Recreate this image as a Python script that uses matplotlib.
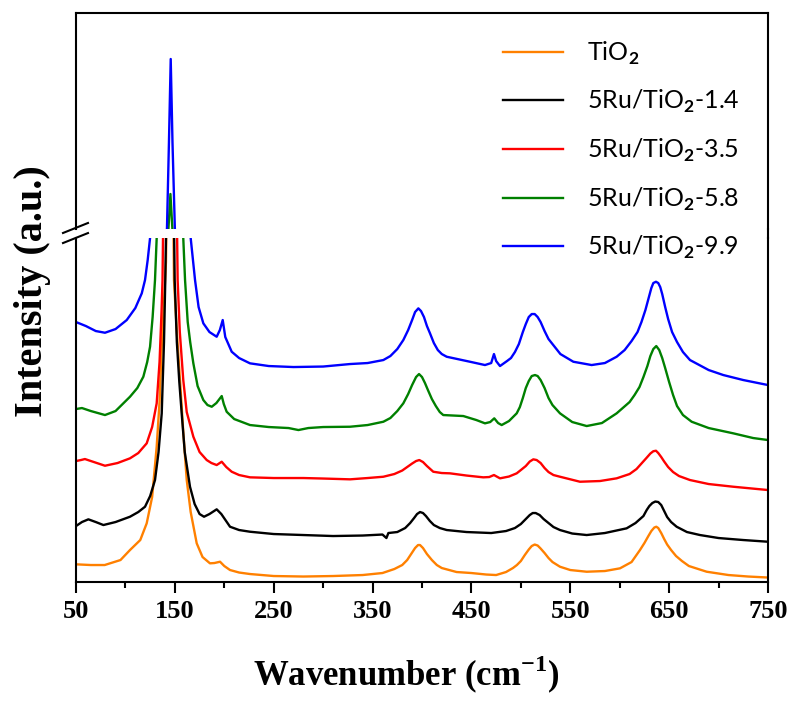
import numpy as np
import matplotlib.pyplot as plt
from matplotlib.lines import Line2D

plt.rcParams['font.family'] = 'Liberation Serif'
plt.rcParams['font.weight'] = 'bold'
plt.rcParams['mathtext.fontset'] = 'custom'
plt.rcParams['mathtext.rm'] = 'Lato'
plt.rcParams['mathtext.bf'] = 'Liberation Serif:bold'

'''
data read off the spectra (stacked, arbitrary units)
lower panel shows 0-344, upper panel 600-2600
'''
labels = ['TiO$_2$', '5Ru/TiO$_2$-1.4', '5Ru/TiO$_2$-3.5', '5Ru/TiO$_2$-5.8', '5Ru/TiO$_2$-9.9']
colors = ['#ff8000', 'black', '#ff0000', '#008000', '#0000ff']

tio2_wn = [50, 65, 79, 95, 104.6, 115, 121.5, 127, 131.6, 134.5, 136.7, 139, 141, 141.3, 143, 145, 147, 148.7, 149.1,
           152, 155.2, 158.5, 162, 166, 172.1, 178, 185.5, 190, 195.7, 200, 205.8, 215, 226, 250, 280, 310, 340, 360,
           372, 380, 385, 389, 393, 396, 398, 401, 405, 410, 415, 420, 435, 450, 465, 475, 485, 492, 496, 500, 504,
           508, 511, 514, 517, 520, 524, 528, 532, 539.6, 550, 566.6, 585, 600.3, 612, 620.5, 625, 629, 632, 635,
           637, 639, 642, 645, 648, 652, 657, 663, 670, 688, 710, 730, 750]
tio2_int = [17.7, 17, 17, 22, 32, 42, 58.7, 85, 135.3, 180, 235.3, 280, 320, 344, 420, 480, 420, 344, 302,
            250, 202, 150, 102, 70, 38.7, 25, 18.7, 19, 20.3, 16, 12, 9.5, 8, 6, 5.5, 6, 7, 9,
            13, 17, 22, 28, 34, 37, 37, 34, 28, 22, 17, 14, 10, 9, 7.5, 7, 10, 14, 17, 21, 27,
            32.5, 36, 37.5, 36.5, 33.5, 29, 24, 20, 15.3, 12, 10.3, 11, 13.7, 20, 32, 39, 46, 51, 54.5,
            55.3, 54, 49, 43, 37.5, 32, 26, 21, 16, 10.3, 7, 5.5, 4.5]

ru14_wn = [50, 56, 62.5, 70, 77.7, 90, 104.6, 113, 119.8, 125, 129.9, 133.5, 136.7, 139, 140.3, 141, 143, 145.5, 148,
           149.3, 149.8, 152, 154.5, 156.9, 160, 165.3, 170, 175, 179.5, 185, 192.3, 197, 205.8, 215, 226, 250, 280,
           310, 340, 360, 364, 366, 375, 383, 388, 392, 395, 398, 401, 404, 408, 412, 418, 425, 445, 470, 485, 494,
           500, 505, 509, 512, 515, 519, 523, 528, 533, 539.6, 552, 566.6, 585, 607, 616, 624, 627.3, 630, 633,
           636, 639, 642, 645, 648, 652, 657.6, 668, 681.2, 700, 725, 750]
ru14_int = [56, 60, 62.7, 60, 57, 60, 65.3, 70, 75.3, 86, 102, 130, 168.7, 240, 302, 344, 420, 470, 420,
            344, 302, 240, 200, 168.7, 130, 95.3, 78, 68, 65.3, 68, 72.7, 68, 55.3, 52, 50.3, 48, 47,
            46, 46.5, 47.5, 44, 49, 50, 54, 59, 64, 68, 70, 69, 66, 61, 57, 54, 52, 50, 49, 51, 54,
            58, 63, 67, 69, 69, 67, 63, 59, 55, 52, 48.5, 47, 49, 53.7, 59, 66, 72, 76, 79,
            80.5, 80, 77, 71, 65, 60, 55.3, 50, 47, 44, 42, 40.3]

ru35_wn = [50, 55, 59, 79.3, 92, 104.6, 113, 121.5, 127, 131.6, 134.5, 136.5, 137.5, 138, 142, 145.5, 149, 152.3,
           152.8, 155, 158.5, 162, 168.7, 175, 182.2, 187, 192.3, 197.4, 202, 207.5, 215, 226, 250, 280, 300,
           327.2, 345, 360.9, 372, 380, 385, 390, 394, 397.3, 401, 405, 411.4, 420, 428.3, 445, 462, 468, 472.8,
           478.9, 488, 495.8, 500, 505, 509, 512.6, 516, 520, 524, 528, 533, 539.6, 559.8, 580, 596.9, 610, 617,
           622, 627, 631, 634, 636.7, 639, 642, 645, 649, 654, 660, 671.1, 690, 714.9, 750]
ru35_int = [121, 122, 123, 116.3, 119, 123.7, 129, 138.7, 155, 178.7, 220, 270, 302, 344, 440, 500, 440, 344,
            302, 250, 202, 170, 145.3, 130, 122, 119, 117, 120.3, 115, 110.3, 107, 104.7, 104, 104, 103.5,
            102.7, 104, 105.3, 108, 111.5, 115, 118.5, 121, 122, 120, 116, 110.3, 109, 108.7, 106.5, 104.7, 105, 107,
            103.7, 105.5, 108.7, 112, 116, 120.5, 122.7, 122, 119, 114, 110, 107, 105.3, 100.3, 101, 103.7, 108, 113,
            118.5, 124, 128.5, 130.8, 131.3, 129, 125, 120.5, 115, 110, 106, 102, 98, 95.3, 92]

ru58_wn = [50, 56, 65, 79.3, 90, 104.6, 112, 118.1, 122, 124.9, 127.5, 129.9, 131.6, 138, 143.5, 145.5, 147.5, 153,
           158.5, 160.3, 163, 165.5, 168.7, 173, 178.8, 183, 187.3, 192, 197.4, 199.5, 202.4, 210, 226, 245, 265,
           275, 285, 300, 327.2, 345, 360.9, 368, 375, 381.1, 386, 390, 394, 397, 400, 403, 406, 410, 414, 418,
           421.5, 441.8, 455, 463.7, 469, 473.1, 477, 480.6, 488, 495.8, 499, 502, 505, 508, 511, 514.3, 517, 520,
           524, 528, 532, 539.6, 552, 566.6, 582, 596.9, 610, 615, 620, 624, 628, 631, 634, 637, 640, 643, 646,
           650, 654, 658, 664, 672.8, 690, 714.9, 735, 750]
ru58_int = [173, 174, 171, 167, 171, 185.3, 194, 205.3, 220, 235.3, 265, 302, 344, 450, 600, 924, 600, 450,
            344, 302, 260, 240, 218.7, 196, 182, 177, 175.3, 179, 186, 178, 170.3, 163, 157, 155, 154,
            152, 154, 155, 155.3, 157, 160.3, 164, 171, 178.7, 188, 197, 205, 208, 205, 199, 192, 183, 176, 170,
            167, 166, 162, 158.7, 160, 163.7, 159, 157, 161, 168.7, 175, 184, 194, 201, 206, 207, 206, 202,
            194, 184, 177, 168.7, 160, 156, 159, 168.7, 180, 187, 195, 205, 216, 226, 233, 236, 232, 224, 214,
            200, 187, 176, 167, 160.3, 154, 148.7, 144, 142]

ru99_wn = [50, 60, 70, 79.3, 90, 101.3, 110, 116.5, 119.8, 122.5, 124.9, 133, 142, 144, 145.8, 147.6, 150, 158,
           166, 170.4, 174, 178.8, 185, 192.3, 195.5, 198.4, 201, 207.5, 215, 226, 245, 270, 300, 327.2, 345,
           360.9, 368, 375, 381.1, 386, 390, 393, 396.3, 399, 402, 405, 408.1, 412, 416, 420, 425, 448.5, 463.7,
           470, 472.8, 475, 478.9, 486, 490, 494, 498, 502, 505, 508, 511, 514, 517, 520, 524, 528, 532.8, 540,
           553.1, 571.6, 585, 596.9, 605, 612, 618, 622, 626, 629, 632, 634, 636.7, 639, 641, 643, 646, 649, 653,
           658, 664, 671.1, 690, 704.8, 725, 750]
ru99_int = [260, 256, 251, 249.3, 253, 262, 274, 288.7, 302, 322, 344, 450, 600, 1400, 2174, 1400, 600, 450,
            344, 302, 275, 258.7, 250, 245.3, 252, 262, 245, 230.3, 224, 218.7, 216, 215, 215.5, 218, 219,
            222, 226, 233, 242, 252, 262, 270, 273.7, 271, 265, 256, 248.7, 239, 232, 228, 225.3, 220.3, 217,
            219, 228, 221, 216, 221, 224, 230, 238, 250, 258, 265, 268, 268, 265, 260, 251, 243, 237, 228,
            220.3, 217, 219, 225.3, 232, 241, 250, 260, 272, 283, 294, 299, 300.3, 299, 295, 288, 275, 263, 250,
            240, 230, 222, 212, 207, 202, 197]

wn_list = [tio2_wn, ru14_wn, ru35_wn, ru58_wn, ru99_wn]
int_list = [tio2_int, ru14_int, ru35_int, ru58_int, ru99_int]

'''
broken y axis: two panels
'''
fig = plt.figure(figsize=(7.91, 7.02), dpi=100)
ax_top = fig.add_axes([0.0961, 0.6738, 0.8748, 0.3077])
ax_bot = fig.add_axes([0.0961, 0.1709, 0.8748, 0.4900])

handles = []
for wn, inten, c in zip(wn_list, int_list, colors):
    l, = ax_bot.plot(wn, inten, color=c, lw=1.7)
    ax_top.plot(wn, inten, color=c, lw=1.7)
    handles.append(l)

for ax in [ax_top, ax_bot]:
    ax.set_xlim(50, 750)
    ax.set_yticks([])
    for s in ax.spines.values():
        s.set_linewidth(1.5)
ax_bot.set_ylim(0, 344)
ax_top.set_ylim(600, 2600)
ax_top.set_xticks([])
ax_top.spines['bottom'].set_visible(False)
ax_bot.spines['top'].set_visible(False)

ax_bot.set_xticks(np.arange(50, 751, 100))
ax_bot.set_xticks(np.arange(100, 701, 100), minor=True)
ax_bot.tick_params(axis='x', which='major', direction='out', length=8, width=1.5, labelsize=19, pad=5)
ax_bot.tick_params(axis='x', which='minor', direction='out', length=4.5, width=1.5)
ax_bot.set_xlabel(r'Wavenumber (cm$^{\mathbf{-1}}$)', fontsize=25, fontweight='bold', labelpad=22)
ax_bot.xaxis.label.set_x(0.478)
fig.text(0.041, 0.585, 'Intensity (a.u.)', rotation=90, fontsize=29, ha='center', va='center')

# break marks on the left spine
ax_top.plot([-0.0188, 0.0173], [-0.0185, 0.0278], transform=ax_top.transAxes, color='black', lw=1.5, clip_on=False)
ax_bot.plot([-0.0188, 0.0173], [0.9855, 1.0145], transform=ax_bot.transAxes, color='black', lw=1.5, clip_on=False)
# right spine runs straight through the gap
fig.add_artist(Line2D([0.9709, 0.9709], [0.6740, 0.6608], transform=fig.transFigure, color='black', lw=1.5))

fig.legend(handles, labels, loc='upper left', bbox_to_anchor=(0.636, 0.944), frameon=False,
           prop={'family': 'Lato', 'size': 18, 'weight': 'normal'}, handlelength=2.4, handletextpad=0.95,
           labelspacing=0.86, borderpad=0, borderaxespad=0)

plt.savefig('out.png', dpi=100)
